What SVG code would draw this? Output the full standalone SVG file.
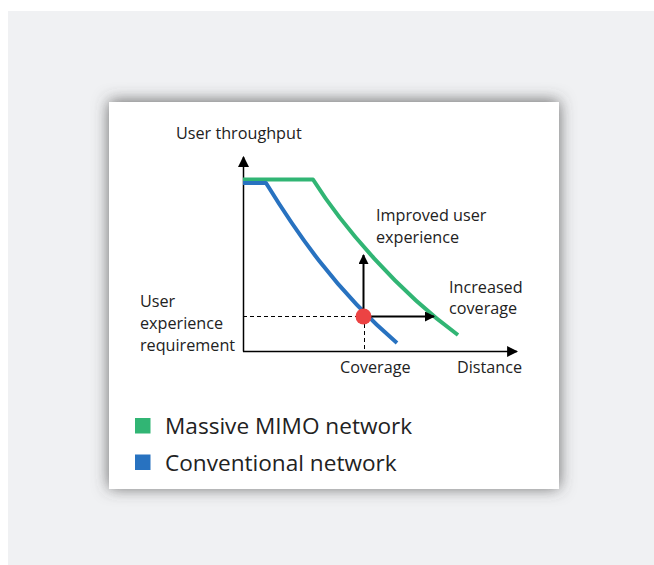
<svg xmlns="http://www.w3.org/2000/svg" width="654" height="565" viewBox="0 0 654 565">
  <defs>
    <filter id="cardShadow" x="-20%" y="-20%" width="140%" height="140%">
      <feGaussianBlur in="SourceAlpha" stdDeviation="8"/>
      <feOffset dx="0" dy="-1" result="blur"/>
      <feFlood flood-color="#444444" flood-opacity="0.8"/>
      <feComposite in2="blur" operator="in"/>
      <feMerge>
        <feMergeNode/>
        <feMergeNode in="SourceGraphic"/>
      </feMerge>
    </filter>
    <marker id="tip" viewBox="0 0 10 10" refX="9" refY="5" markerWidth="10" markerHeight="10" markerUnits="userSpaceOnUse" orient="auto">
      <path d="M0,0 L10,5 L0,10 z" fill="#000"/>
    </marker>
    <marker id="axisTip" viewBox="0 0 10 10" refX="9" refY="5" markerWidth="11" markerHeight="11" markerUnits="userSpaceOnUse" orient="auto">
      <path d="M0,0 L10,5 L0,10 z" fill="#000"/>
    </marker>
  </defs>
  <style>
    text { font-family: "Open Sans", "Liberation Sans", sans-serif; fill: #222; }
    .lbl { font-size: 16.2px; }
    .leg { font-size: 22.6px; }
    .axis { stroke: #000; stroke-width: 1.5; fill: none; }
    .dash { stroke: #000; stroke-width: 1; stroke-dasharray: 4 3; fill: none; }
    .arrow { stroke: #000; stroke-width: 2; fill: none; }
    .curve { stroke-width: 4; fill: none; stroke-linejoin: round; }
    .green { stroke: #31b574; }
    .blue { stroke: #2872c0; }
  </style>

  <!-- page background and card -->
  <rect x="0" y="0" width="654" height="565" fill="#ffffff"/>
  <rect x="8" y="11" width="646" height="554" fill="#f0f1f3"/>
  <rect x="109" y="102" width="450" height="387" fill="#ffffff" filter="url(#cardShadow)"/>

  <!-- axes -->
  <g id="axes">
    <line class="axis" x1="243.5" y1="351.5" x2="243.5" y2="157" marker-end="url(#axisTip)"/>
    <line class="axis" x1="243" y1="351.5" x2="517" y2="351.5" marker-end="url(#axisTip)"/>
  </g>

  <!-- throughput curves -->
  <g id="curve-massive-mimo">
    <path class="curve green" d="M243,179.5 H313 C343,227 398,291 458,335"/>
  </g>
  <g id="curve-conventional">
    <path class="curve blue" d="M243,183 H266 C295,230 335,290 397,343"/>
  </g>

  <!-- guides and gains -->
  <g id="connectors">
    <line class="dash" x1="243" y1="316.5" x2="363" y2="316.5"/>
    <line class="dash" x1="364.5" y1="317" x2="364.5" y2="351"/>
    <line class="arrow" x1="363.5" y1="317" x2="363.5" y2="255" marker-end="url(#tip)"/>
    <line class="arrow" x1="363" y1="316.5" x2="434" y2="316.5" marker-end="url(#tip)"/>
  </g>

  <g id="requirement-point">
    <circle cx="363.5" cy="316.5" r="8" fill="#ec4343"/>
  </g>

  <!-- labels -->
  <g id="label-y-axis"><text class="lbl" x="176" y="139">User throughput</text></g>
  <g id="label-improved">
    <text class="lbl" x="376" y="221">Improved user</text>
    <text class="lbl" x="376" y="243">experience</text>
  </g>
  <g id="label-increased">
    <text class="lbl" x="449" y="293">Increased</text>
    <text class="lbl" x="449" y="314">coverage</text>
  </g>
  <g id="label-requirement">
    <text class="lbl" x="140" y="307">User</text>
    <text class="lbl" x="140" y="329">experience</text>
    <text class="lbl" x="140" y="351">requirement</text>
  </g>
  <g id="label-coverage"><text class="lbl" x="340" y="373">Coverage</text></g>
  <g id="label-distance"><text class="lbl" x="457" y="373">Distance</text></g>

  <!-- legend -->
  <g id="legend-massive-mimo">
    <rect x="135" y="418" width="15.5" height="15.5" fill="#31b574"/>
    <text class="leg" x="165" y="434">Massive MIMO network</text>
  </g>
  <g id="legend-conventional">
    <rect x="135" y="454.5" width="15.5" height="15.5" fill="#2872c0"/>
    <text class="leg" x="165" y="471">Conventional network</text>
  </g>
</svg>
